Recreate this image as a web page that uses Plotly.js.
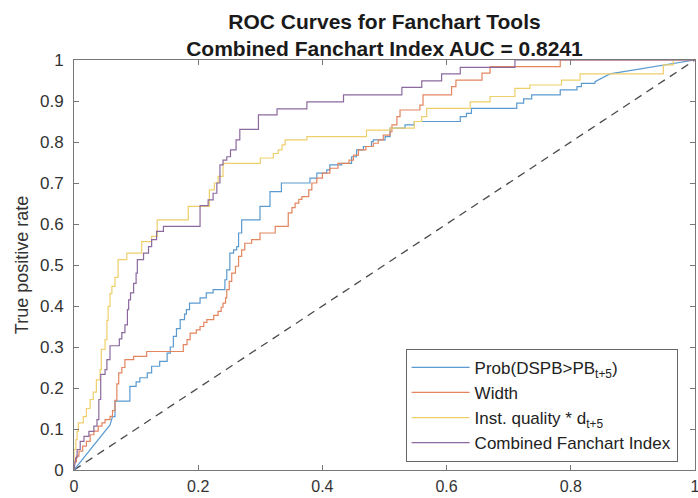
<!DOCTYPE html>
<html>
<head>
<meta charset="utf-8">
<script src="https://cdn.plot.ly/plotly-3.0.1.min.js"></script>
<style>html,body{margin:0;padding:0;background:#fff;}#chart{width:698px;height:498px;}</style>
</head>
<body>
<div id="chart"></div>
<script>
// ---- Data ----
const seriesNames = ["Prob(DSPB&gt;PB<sub>t+5</sub>)", "Width", "Inst. quality * d<sub>t+5</sub>", "Combined Fanchart Index"];

const probFPR = [0,0.058,0.062,0.066,0.066,0.090,0.090,0.100,0.100,0.106,0.106,0.118,0.118,0.125,0.125,0.138,0.138,0.150,0.150,0.155,0.155,0.160,0.160,0.165,0.165,0.171,0.171,0.178,0.178,0.181,0.181,0.186,0.186,0.203,0.203,0.213,0.213,0.224,0.224,0.243,0.243,0.246,0.246,0.251,0.251,0.257,0.257,0.262,0.262,0.265,0.265,0.270,0.270,0.2995,0.2995,0.3156,0.3156,0.334,0.334,0.380,0.380,0.391,0.391,0.407,0.407,0.412,0.412,0.431,0.431,0.447,0.447,0.455,0.455,0.466,0.466,0.479,0.479,0.482,0.482,0.501,0.501,0.509,0.509,0.533,0.533,0.548,0.548,0.622,0.622,0.632,0.632,0.640,0.640,0.713,0.713,0.724,0.724,0.737,0.737,0.783,0.783,0.810,0.810,0.817,0.817,0.839,0.839,0.863,1];
const probTPR = [0,0.110,0.130,0.130,0.168,0.168,0.204,0.204,0.215,0.215,0.225,0.225,0.237,0.237,0.253,0.253,0.265,0.265,0.285,0.285,0.300,0.300,0.326,0.326,0.345,0.345,0.367,0.367,0.380,0.380,0.391,0.391,0.407,0.407,0.420,0.420,0.432,0.432,0.440,0.440,0.464,0.464,0.488,0.488,0.529,0.529,0.537,0.537,0.545,0.545,0.578,0.578,0.610,0.610,0.643,0.643,0.679,0.679,0.700,0.700,0.712,0.712,0.724,0.724,0.732,0.732,0.744,0.744,0.748,0.748,0.764,0.764,0.781,0.781,0.789,0.789,0.801,0.801,0.805,0.805,0.813,0.813,0.834,0.834,0.842,0.842,0.850,0.850,0.862,0.862,0.870,0.870,0.882,0.882,0.895,0.895,0.905,0.905,0.915,0.915,0.927,0.927,0.935,0.935,0.943,0.943,0.947,0.966,1];

const widthFPR = [0,0,0.004,0.004,0.008,0.008,0.014,0.014,0.020,0.020,0.026,0.026,0.032,0.032,0.039,0.039,0.045,0.045,0.050,0.050,0.058,0.058,0.062,0.062,0.066,0.066,0.069,0.069,0.072,0.072,0.077,0.077,0.082,0.082,0.096,0.096,0.117,0.117,0.176,0.176,0.182,0.182,0.187,0.187,0.197,0.197,0.203,0.203,0.209,0.209,0.214,0.214,0.225,0.225,0.232,0.232,0.237,0.237,0.240,0.240,0.244,0.244,0.246,0.246,0.250,0.250,0.254,0.254,0.260,0.260,0.265,0.265,0.270,0.270,0.275,0.275,0.286,0.286,0.2995,0.2995,0.324,0.324,0.345,0.345,0.351,0.351,0.356,0.356,0.362,0.362,0.367,0.367,0.378,0.378,0.383,0.383,0.391,0.391,0.400,0.400,0.412,0.412,0.425,0.425,0.443,0.443,0.450,0.450,0.458,0.458,0.470,0.470,0.482,0.482,0.490,0.490,0.498,0.498,0.509,0.509,0.512,0.512,0.520,0.520,0.525,0.525,0.557,0.557,0.562,0.562,0.608,0.608,0.615,0.615,0.657,0.657,0.670,0.670,0.783,0.783,1];
const widthTPR = [0,0.020,0.020,0.034,0.034,0.046,0.046,0.058,0.058,0.070,0.070,0.086,0.086,0.095,0.095,0.107,0.107,0.115,0.115,0.123,0.123,0.131,0.131,0.145,0.145,0.170,0.170,0.210,0.210,0.237,0.237,0.250,0.250,0.269,0.269,0.277,0.277,0.289,0.289,0.306,0.306,0.318,0.318,0.334,0.334,0.342,0.342,0.350,0.350,0.360,0.360,0.367,0.367,0.377,0.377,0.387,0.387,0.397,0.397,0.407,0.407,0.420,0.420,0.440,0.440,0.460,0.460,0.480,0.480,0.497,0.497,0.521,0.521,0.537,0.537,0.553,0.553,0.562,0.562,0.578,0.578,0.594,0.594,0.627,0.627,0.640,0.640,0.651,0.651,0.660,0.660,0.667,0.667,0.683,0.683,0.700,0.700,0.712,0.712,0.724,0.724,0.736,0.736,0.748,0.748,0.756,0.756,0.768,0.768,0.781,0.781,0.789,0.789,0.797,0.797,0.805,0.805,0.817,0.817,0.825,0.825,0.842,0.842,0.862,0.862,0.878,0.878,0.890,0.890,0.915,0.915,0.935,0.935,0.951,0.951,0.968,0.968,0.984,0.984,1,1];

const instFPR = [0,0,0.003,0.003,0.005,0.005,0.007,0.007,0.015,0.015,0.020,0.020,0.026,0.026,0.031,0.031,0.036,0.036,0.042,0.042,0.044,0.044,0.050,0.050,0.053,0.053,0.055,0.055,0.058,0.058,0.061,0.061,0.066,0.066,0.071,0.071,0.085,0.085,0.109,0.109,0.125,0.125,0.134,0.134,0.184,0.184,0.218,0.218,0.226,0.226,0.232,0.232,0.240,0.240,0.300,0.300,0.321,0.321,0.329,0.329,0.335,0.335,0.340,0.340,0.375,0.375,0.471,0.471,0.509,0.509,0.548,0.548,0.560,0.560,0.568,0.568,0.638,0.638,0.670,0.670,0.710,0.710,0.734,0.734,0.785,0.785,0.815,0.815,0.949,0.949,0.965,0.965,0.975,1];
const instTPR = [0,0.050,0.050,0.074,0.074,0.094,0.094,0.115,0.115,0.130,0.130,0.150,0.150,0.172,0.172,0.190,0.190,0.220,0.220,0.245,0.245,0.294,0.294,0.318,0.318,0.365,0.365,0.399,0.399,0.430,0.430,0.448,0.448,0.470,0.470,0.513,0.513,0.529,0.529,0.557,0.557,0.570,0.570,0.610,0.610,0.643,0.643,0.683,0.683,0.700,0.700,0.716,0.716,0.748,0.748,0.761,0.761,0.772,0.772,0.781,0.781,0.793,0.793,0.805,0.805,0.813,0.813,0.829,0.829,0.834,0.834,0.850,0.850,0.862,0.862,0.882,0.882,0.898,0.898,0.911,0.911,0.931,0.931,0.939,0.939,0.951,0.951,0.966,0.966,0.988,0.988,1];

const combFPR = [0,0.003,0.005,0.005,0.010,0.010,0.016,0.016,0.024,0.024,0.032,0.032,0.037,0.037,0.040,0.040,0.043,0.043,0.050,0.050,0.053,0.053,0.058,0.058,0.073,0.073,0.077,0.077,0.082,0.082,0.086,0.086,0.088,0.088,0.091,0.091,0.096,0.096,0.100,0.100,0.102,0.102,0.112,0.112,0.120,0.120,0.125,0.125,0.133,0.133,0.144,0.144,0.203,0.203,0.216,0.216,0.224,0.224,0.230,0.230,0.235,0.235,0.240,0.240,0.246,0.246,0.252,0.252,0.261,0.261,0.267,0.267,0.297,0.297,0.327,0.327,0.375,0.375,0.434,0.434,0.528,0.528,0.560,0.560,0.592,0.592,0.622,0.622,0.710,0.710,1];
const combTPR = [0,0.030,0.030,0.050,0.050,0.070,0.070,0.082,0.082,0.094,0.094,0.107,0.107,0.123,0.123,0.172,0.172,0.233,0.233,0.245,0.245,0.269,0.269,0.303,0.303,0.320,0.320,0.335,0.335,0.354,0.354,0.391,0.391,0.415,0.415,0.432,0.432,0.455,0.455,0.480,0.480,0.513,0.513,0.529,0.529,0.545,0.545,0.562,0.562,0.582,0.582,0.594,0.594,0.645,0.645,0.659,0.659,0.675,0.675,0.700,0.700,0.744,0.744,0.756,0.756,0.764,0.764,0.781,0.781,0.805,0.805,0.831,0.831,0.866,0.866,0.881,0.881,0.898,0.898,0.915,0.915,0.933,0.933,0.949,0.949,0.966,0.966,0.982,0.982,1,1];

const chanceX = [0, 1];
const chanceY = [0, 1];

const xTickVals = [0, 0.2, 0.4, 0.6, 0.8, 1];
const xTickText = ["0", "0.2", "0.4", "0.6", "0.8", "1"];
const yTickVals = [0, 0.1, 0.2, 0.3, 0.4, 0.5, 0.6, 0.7, 0.8, 0.9, 1];
const yTickText = ["0", "0.1", "0.2", "0.3", "0.4", "0.5", "0.6", "0.7", "0.8", "0.9", "1"];

// ---- Styles ----
const colors = ["#5a9ad0", "#e3855f", "#eecf6c", "#8c6a9e"];
const FONT = "Liberation Sans, Arial, sans-serif";

const traces = [
  {x: chanceX, y: chanceY, mode: "lines", showlegend: false, hoverinfo: "skip",
   line: {color: "#4a4a4a", width: 1.3, dash: "8px,6px"}},
  {x: probFPR, y: probTPR, name: seriesNames[0], mode: "lines", line: {color: colors[0], width: 1.2}},
  {x: widthFPR, y: widthTPR, name: seriesNames[1], mode: "lines", line: {color: colors[1], width: 1.2}},
  {x: instFPR, y: instTPR, name: seriesNames[2], mode: "lines", line: {color: colors[2], width: 1.2}},
  {x: combFPR, y: combTPR, name: seriesNames[3], mode: "lines", line: {color: colors[3], width: 1.2}}
];

const axisCommon = {
  range: [0, 1], showgrid: false, zeroline: false,
  showline: true, linecolor: "#777", linewidth: 1, mirror: "ticks",
  ticks: "inside", ticklen: 5, tickcolor: "#777", tickwidth: 1,
  ticklabeloverflow: "allow"
};

const layout = {
  width: 698, height: 498,
  margin: {l: 74, r: 3, t: 60, b: 28, pad: 0},
  paper_bgcolor: "#fff", plot_bgcolor: "#fff",
  font: {family: FONT, color: "#222"},
  title: {
    text: "<b>ROC Curves for Fanchart Tools</b><br><b>Combined Fanchart Index AUC = 0.8241</b>",
    font: {family: FONT, size: 21, color: "#1a1a1a"},
    x: 0.5, xref: "paper", xanchor: "center",
    y: 0.942, yref: "container", yanchor: "top"
  },
  xaxis: Object.assign({}, axisCommon, {tickvals: xTickVals, ticktext: xTickText, ticklabelstandoff: 2,
    tickfont: {family: FONT, size: 16, color: "#333"}}),
  yaxis: Object.assign({}, axisCommon, {tickvals: yTickVals, ticktext: yTickText, ticklabelstandoff: 6,
    tickfont: {family: FONT, size: 17, color: "#333"},
    title: {text: "True positive rate", font: {family: FONT, size: 18, color: "#333"}, standoff: 6}}),
  legend: {
    x: 0.972, xanchor: "right", y: 0.02, yanchor: "bottom",
    bgcolor: "#fff", bordercolor: "#666", borderwidth: 1,
    font: {family: FONT, size: 17, color: "#222"},
    itemwidth: 58, tracegroupgap: 0
  },
  showlegend: true
};

Plotly.newPlot("chart", traces, layout, {staticPlot: true, displayModeBar: false});
</script>
</body>
</html>
